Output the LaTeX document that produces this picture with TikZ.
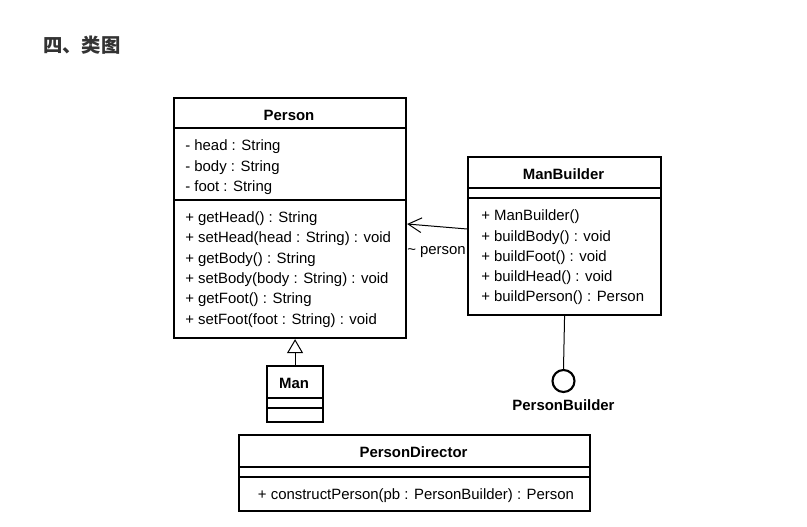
\documentclass[tikz,border=0pt]{standalone}
\usepackage{fontspec}
\setmainfont{Liberation Sans}
\newfontfamily\cjk{Noto Sans CJK SC}
\usetikzlibrary{arrows.meta}
\definecolor{headgray}{HTML}{333333}
\begin{document}
\begin{tikzpicture}[x=0.75pt,y=-0.75pt,
  umlbox/.style={draw, line width=1.6pt, anchor=north west, inner sep=0pt},
  sepline/.style={line width=0.8pt},
  umltitle/.style={inner sep=0pt, font=\fontsize{11.2}{13}\selectfont\bfseries},
  member/.style={anchor=west, inner sep=0pt, yshift=-1pt, font=\fontsize{11.2}{13}\selectfont},
  thin/.style={line width=0.75pt}]
\useasboundingbox (0,0) rectangle (807,527);

% heading
\node[anchor=west, inner sep=0pt, text=headgray, font=\cjk\bfseries\fontsize{14.5}{16}\selectfont] (heading) at (43,45) {四、类图};

% Person
\node[umlbox, minimum width=174pt, minimum height=180pt] (Person) at (173,97) {};
\node[umltitle] (PersonT) at (289,115) {Person};
\draw[sepline] (173,128) -- (405,128);
\draw[sepline] (173,200) -- (405,200);
\node[member] (p1) at (185,145) {- head : String};
\node[member] (p2) at (185,166) {- body : String};
\node[member] (p3) at (185,186) {- foot : String};
\node[member] (p4) at (185,217) {+ getHead() : String};
\node[member] (p5) at (185,237) {+ setHead(head : String) : void};
\node[member] (p6) at (185,258) {+ getBody() : String};
\node[member] (p7) at (185,278) {+ setBody(body : String) : void};
\node[member] (p8) at (185,298) {+ getFoot() : String};
\node[member] (p9) at (185,319) {+ setFoot(foot : String) : void};

% ManBuilder
\node[umlbox, minimum width=144.75pt, minimum height=118.5pt] (MB) at (467,156) {};
\node[umltitle] (MBT) at (563.5,174) {ManBuilder};
\draw[sepline] (467,188) -- (660,188);
\draw[sepline] (467,198) -- (660,198);
\node[member] (m1) at (481,215) {+ ManBuilder()};
\node[member] (m2) at (481,236) {+ buildBody() : void};
\node[member] (m3) at (481,256) {+ buildFoot() : void};
\node[member] (m4) at (481,276) {+ buildHead() : void};
\node[member] (m5) at (481,296) {+ buildPerson() : Person};

% association
\draw[thin, -{Straight Barb[length=10pt,width=11pt,line width=0.75pt]}] (MB.west |- 0,229) -- (Person.east |- 0,224);
\node[member] (lbl) at (407,251) {\textasciitilde{} person};

% interface lollipop
\node[circle, draw, line width=1.6pt, minimum size=16.5pt, inner sep=0pt] (PB) at (563.5,381) {};
\draw[thin] (MB.south) -- (PB.north);
\node[umltitle] (PBT) at (563.5,405) {PersonBuilder};

% Man
\node[umlbox, minimum width=42pt, minimum height=42pt] (Man) at (266,365) {};
\node[umltitle] (ManT) at (294,383) {Man};
\draw[sepline] (266,398) -- (322,398);
\draw[sepline] (266,408) -- (322,408);
\draw[thin, -{Triangle[open, length=10.5pt, width=12pt, line width=0.75pt, fill=white]}] (Man.north) -- (Person.south -| Man.north);

% PersonDirector
\node[umlbox, minimum width=263.25pt, minimum height=57pt] (PD) at (238,434) {};
\node[umltitle] (PDT) at (413.5,452) {PersonDirector};
\draw[sepline] (238,467) -- (589,467);
\draw[sepline] (238,477) -- (589,477);
\node[member, anchor=center] (d1) at (416,494) {+ constructPerson(pb : PersonBuilder) : Person};
\end{tikzpicture}
\end{document}
